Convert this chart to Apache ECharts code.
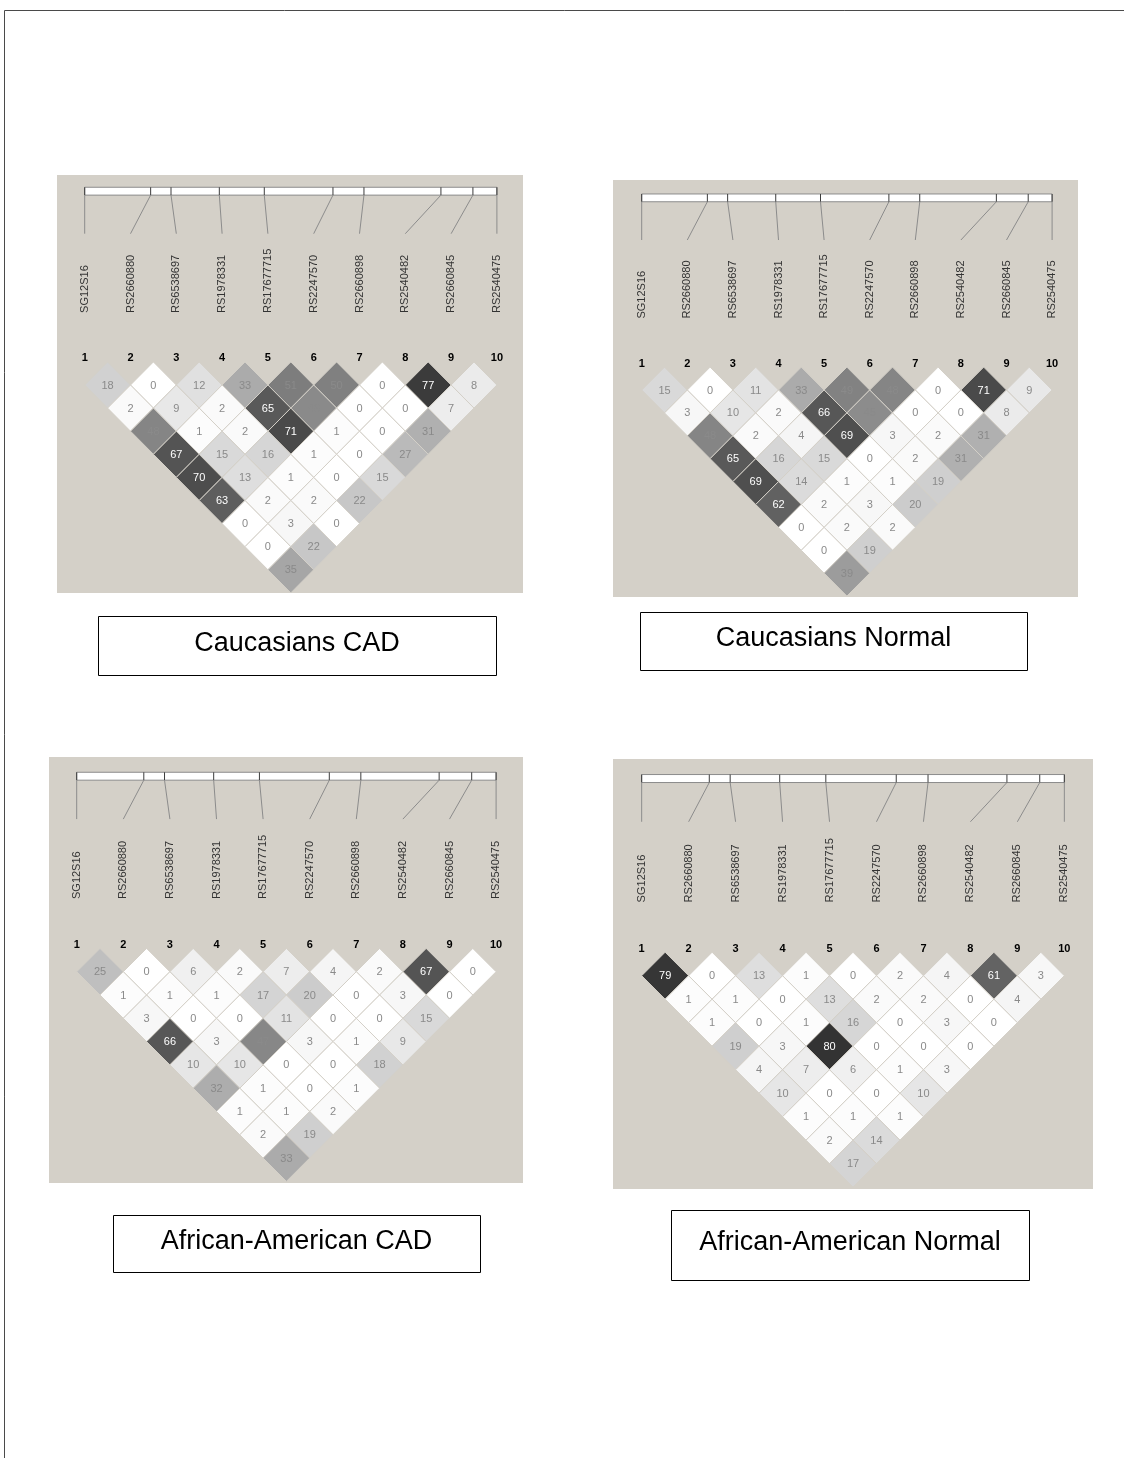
<!DOCTYPE html>
<html>
<head>
<meta charset="utf-8">
<script src="https://cdn.jsdelivr.net/npm/echarts@6/dist/echarts.min.js"></script>
<style>
  html, body { margin: 0; padding: 0; background: #ffffff; }
  #chart { width: 1124px; height: 1458px; }
</style>
</head>
<body>
<div id="chart"></div>
<script>
// Markers shown across the top of every LD plot
const snpNames = ['SG12S16', 'RS2660880', 'RS6538697', 'RS1978331', 'RS17677715',
                  'RS2247570', 'RS2660898', 'RS2540482', 'RS2660845', 'RS2540475'];
// Relative physical position of each marker along the region (0 = first, 1 = last)
const snpMapPos = [0, 0.160, 0.2094, 0.3266, 0.4357, 0.6023, 0.6775, 0.8642, 0.9418, 1];
const markerNumbers = ['1', '2', '3', '4', '5', '6', '7', '8', '9', '10'];

// Pairwise r2 (x100), one row per marker distance d = 1..9;
// entry k of row d is the pair (k+1, k+1+d)
const ldCaucasianCAD = [
  [18, 0, 12, 33, 51, 50, 0, 77, 8],
  [2, 9, 2, 65, 46, 0, 0, 7],
  [48, 1, 2, 71, 1, 0, 31],
  [67, 15, 16, 1, 0, 27],
  [70, 13, 1, 0, 15],
  [63, 2, 2, 22],
  [0, 3, 0],
  [0, 22],
  [35]
];
const ldCaucasianNormal = [
  [15, 0, 11, 33, 49, 48, 0, 71, 9],
  [3, 10, 2, 66, 45, 0, 0, 8],
  [48, 2, 4, 69, 3, 2, 31],
  [65, 16, 15, 0, 2, 31],
  [69, 14, 1, 1, 19],
  [62, 2, 3, 20],
  [0, 2, 2],
  [0, 19],
  [39]
];
const ldAfricanAmericanCAD = [
  [25, 0, 6, 2, 7, 4, 2, 67, 0],
  [1, 1, 1, 17, 20, 0, 3, 0],
  [3, 0, 0, 11, 0, 0, 15],
  [66, 3, 47, 3, 1, 9],
  [10, 10, 0, 0, 18],
  [32, 1, 0, 1],
  [1, 1, 2],
  [2, 19],
  [33]
];
const ldAfricanAmericanNormal = [
  [79, 0, 13, 1, 0, 2, 4, 61, 3],
  [1, 1, 0, 13, 2, 2, 0, 4],
  [1, 0, 1, 16, 0, 3, 0],
  [19, 3, 80, 0, 0, 0],
  [4, 7, 6, 1, 3],
  [10, 0, 0, 10],
  [1, 1, 1],
  [2, 14],
  [17]
];
const panelTitles = ['Caucasians CAD', 'Caucasians Normal', 'African-American CAD', 'African-American Normal'];

// Page layout of the four panels
const panels = [
  { title: panelTitles[0], ld: ldCaucasianCAD,
    bg: [57, 175, 466, 418], grid: { left: 38.9, top: 361.9, width: 503.8, height: 231 },
    box: [98, 616, 398, 59] },
  { title: panelTitles[1], ld: ldCaucasianNormal,
    bg: [613, 180, 465, 417], grid: { left: 596.1, top: 367.1, width: 501.6, height: 229 },
    box: [640, 612, 387, 58] },
  { title: panelTitles[2], ld: ldAfricanAmericanCAD,
    bg: [49, 757, 474, 426], grid: { left: 30.1, top: 948.4, width: 512.6, height: 233 },
    box: [113, 1215, 367, 57] },
  { title: panelTitles[3], ld: ldAfricanAmericanNormal,
    bg: [613, 759, 480, 430], grid: { left: 594.7, top: 952.2, width: 516.6, height: 235 },
    box: [671, 1210, 358, 70] }
];

const BG = '#d4d0c8';
const chart = echarts.init(document.getElementById('chart'), null, { renderer: 'canvas' });

// header geometry, in row units above the triangle (negative y on the inverted axis)
const BAR_TOP = -7.56, BAR_BOTTOM = -7.22, LINE_END = -5.55, NAME_START = -2.12;

function diamondRender(params, api) {
  const cx = api.value(0), d = api.value(1), v = api.value(2);
  const T = api.coord([cx, d - 1]);
  const R = api.coord([cx + 0.5, d]);
  const B = api.coord([cx, d + 1]);
  const L = api.coord([cx - 0.5, d]);
  const C = api.coord([cx, d]);
  const g = Math.round(255 * (1 - v / 100));
  return {
    type: 'group',
    children: [
      { type: 'polygon', shape: { points: [T, R, B, L] },
        style: { fill: 'rgb(' + g + ',' + g + ',' + g + ')', stroke: BG, lineWidth: 1 } },
      { type: 'text', x: C[0], y: C[1] + 0.5,
        style: { text: String(v), fill: v > 55 ? '#ffffff' : '#8a8a8a',
                 font: '11px "Liberation Sans", Arial, sans-serif',
                 align: 'center', verticalAlign: 'middle' } }
    ]
  };
}

function headerRender(params, api) {
  const k = api.value(0);
  const pos = api.value(1);
  const physX = api.coord([1 + pos * 9, 0])[0];
  const barTop = api.coord([1, BAR_TOP])[1];
  const barBottom = api.coord([1, BAR_BOTTOM])[1];
  const lineEnd = api.coord([1, LINE_END])[1];
  const nameStart = api.coord([1, NAME_START])[1];
  const labelX = api.coord([k + 1, 0])[0];
  const children = [];
  if (k === 0) {
    const x0 = api.coord([1, 0])[0], x1 = api.coord([10, 0])[0];
    children.push({ type: 'rect', shape: { x: x0, y: barTop, width: x1 - x0, height: barBottom - barTop },
      style: { fill: '#ffffff', stroke: '#8c8c8c', lineWidth: 1 } });
  }
  children.push({ type: 'line', shape: { x1: physX, y1: barTop, x2: physX, y2: barBottom },
    style: { stroke: '#3c3c3c', lineWidth: 1 } });
  children.push({ type: 'line', shape: { x1: physX, y1: barBottom, x2: labelX, y2: lineEnd },
    style: { stroke: '#8c8c8c', lineWidth: 1 } });
  children.push({ type: 'text', x: labelX, y: nameStart, rotation: Math.PI / 2,
    style: { text: snpNames[k], fill: '#333333', font: '11px "Liberation Sans", Arial, sans-serif',
             align: 'left', verticalAlign: 'middle' } });
  return { type: 'group', children: children };
}

const grids = [], xAxes = [], yAxes = [], series = [], graphics = [];

// page frame
graphics.push({ type: 'line', shape: { x1: 4.5, y1: 10.5, x2: 1124, y2: 10.5 },
  style: { stroke: '#4a4a4a', lineWidth: 1 }, z: 0 });
graphics.push({ type: 'line', shape: { x1: 4.5, y1: 10.5, x2: 4.5, y2: 1458 },
  style: { stroke: '#4a4a4a', lineWidth: 1 }, z: 0 });

panels.forEach(function (p, idx) {
  graphics.push({ type: 'rect', shape: { x: p.bg[0], y: p.bg[1], width: p.bg[2], height: p.bg[3] },
    style: { fill: BG }, z: 0 });
  graphics.push({ type: 'rect', shape: { x: p.box[0] + 0.5, y: p.box[1] + 0.5, width: p.box[2], height: p.box[3] },
    style: { fill: '#ffffff', stroke: '#000000', lineWidth: 1 }, z: 0 });
  graphics.push({ type: 'text', x: p.box[0] + p.box[2] / 2, y: p.box[1] + p.box[3] / 2 - 2,
    style: { text: p.title, fill: '#000000', font: '27px "Liberation Sans", Arial, sans-serif',
             align: 'center', verticalAlign: 'middle' }, z: 1 });

  grids.push({ left: p.grid.left, top: p.grid.top, width: p.grid.width, height: p.grid.height,
    containLabel: false });
  xAxes.push({
    gridIndex: idx, type: 'value', min: 0, max: 11, interval: 1, position: 'top',
    axisLine: { show: false }, axisTick: { show: false }, splitLine: { show: false },
    axisLabel: {
      margin: -2, fontWeight: 'bold', fontSize: 11, color: '#000000',
      fontFamily: '"Liberation Sans", Arial, sans-serif',
      formatter: function (v) { return (v >= 1 && v <= 10) ? markerNumbers[v - 1] : ''; }
    }
  });
  yAxes.push({ gridIndex: idx, type: 'value', min: 0, max: 10, inverse: true, show: false });

  const cells = [];
  p.ld.forEach(function (row, r) {
    const d = r + 1;
    row.forEach(function (v, k) {
      const i = k + 1, j = k + 1 + d;
      cells.push([(i + j) / 2, d, v]);
    });
  });
  series.push({ type: 'custom', xAxisIndex: idx, yAxisIndex: idx, renderItem: diamondRender,
    data: cells, encode: { x: 0, y: 1 }, clip: false, silent: true, animation: false });
  series.push({ type: 'custom', xAxisIndex: idx, yAxisIndex: idx, renderItem: headerRender,
    data: snpMapPos.map(function (pos, k) { return [k, pos]; }), encode: { x: 0 },
    clip: false, silent: true, animation: false });
});

chart.setOption({
  backgroundColor: '#ffffff',
  animation: false,
  grid: grids,
  xAxis: xAxes,
  yAxis: yAxes,
  series: series,
  graphic: { elements: graphics }
});
</script>
</body>
</html>
